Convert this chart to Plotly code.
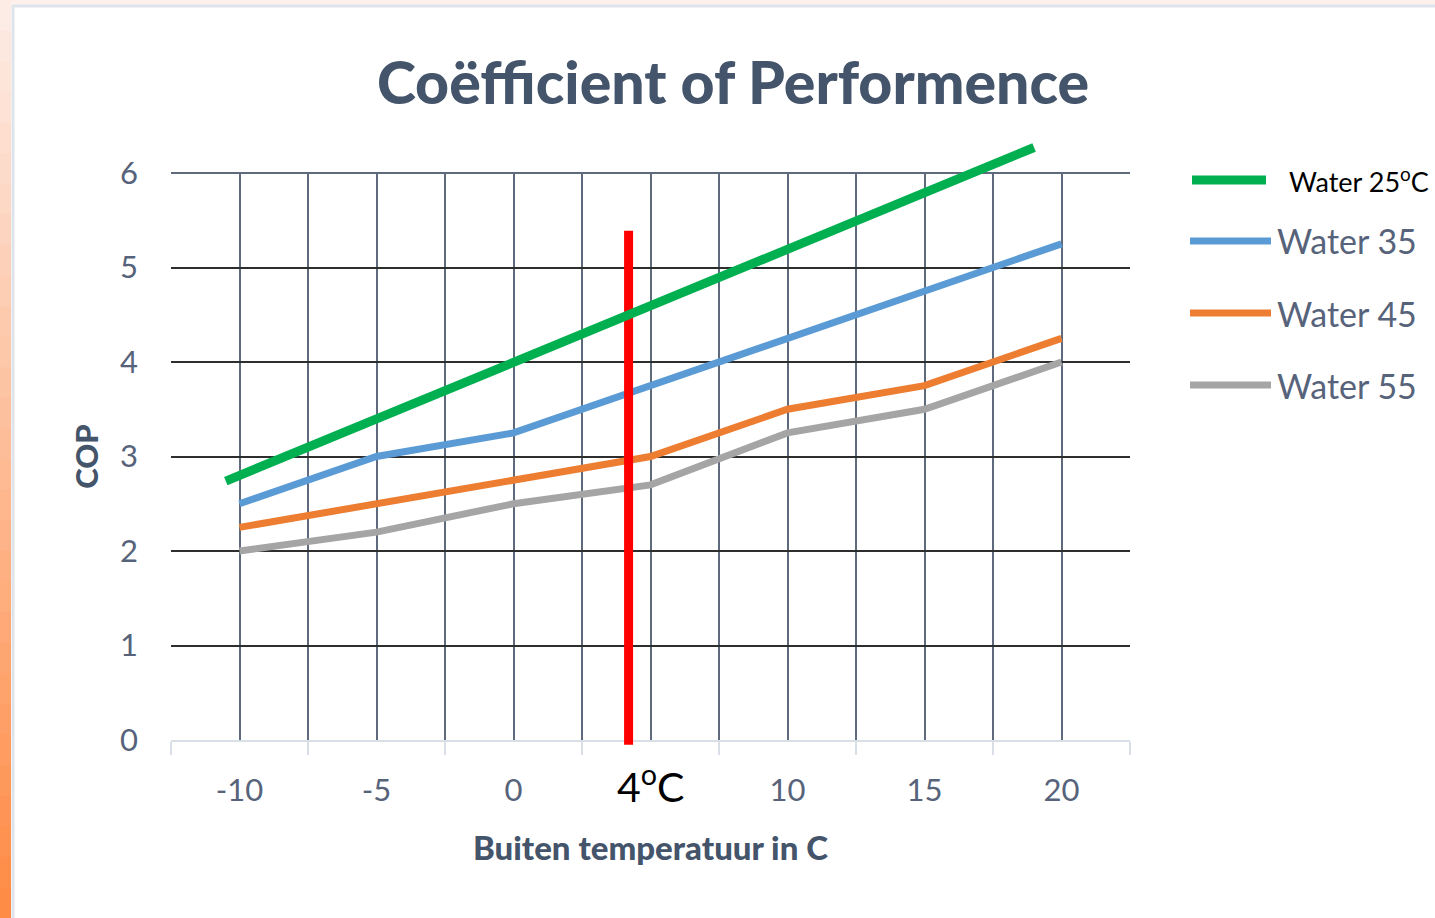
import plotly.graph_objects as go

# ---------------- data ----------------
temps = [-10, -5, 0, 5, 10, 15, 20]
tick_labels = ["-10", "-5", "0", "", "10", "15", "20"]
cop_35 = [2.5, 3.0, 3.25, 3.75, 4.25, 4.75, 5.25]
cop_45 = [2.25, 2.5, 2.75, 3.0, 3.5, 3.75, 4.25]
cop_55 = [2.0, 2.2, 2.5, 2.7, 3.25, 3.5, 4.0]
series_names = ["Water 35", "Water 45", "Water 55"]
series_colors = ["#5B9BD5", "#ED7D31", "#A5A5A5"]

# hand-drawn overlays
green_x = [-10.5, 19.0]
green_y = [2.74, 6.27]
red_x = [4.2, 4.2]
red_y = [-0.05, 5.39]
marker_label = "4<sup>o</sup>C"
marker_label_x = 5
green_name = "Water 25<sup>o</sup>C"

# ---------------- layout geometry (pixels) ----------------
W, H = 1435, 918
PL, PR = 171, 1130          # plot area left/right
PT, PB = 173, 740           # plot area top/bottom (y=6 / y=0)
FT, FB = 120, 770           # paper top/bottom
YMIN, YMAX = 0, 6
XMIN, XMAX = -12.5, 22.5

ppu = (PB - PT) / (YMAX - YMIN)
y_dom = [(FB - PB) / (FB - FT), (FB - PT) / (FB - FT)]
y2_range = [YMIN - (FB - PB) / ppu, YMAX + (PT - FT) / ppu]


def px(xp):
    return (xp - PL) / (PR - PL)


def py(yp):
    return (FB - yp) / (FB - FT)


label_color = "#56637A"
title_color = "#44546A"
grid_v = "#5F6A7C"
grid_h = "#2E2E2E"
font_family = "Lato, 'Open Sans', sans-serif"

fig = go.Figure()

for name, vals, col in zip(series_names, [cop_35, cop_45, cop_55], series_colors):
    fig.add_trace(go.Scatter(
        x=temps, y=vals, mode="lines", name=name,
        line=dict(color=col, width=7), xaxis="x", yaxis="y",
        showlegend=False, hoverinfo="skip"))

# overlay traces on full-paper axes (not clipped to the plot area)
fig.add_trace(go.Scatter(x=red_x, y=red_y, mode="lines",
                         line=dict(color="#FF0000", width=9),
                         xaxis="x2", yaxis="y2", showlegend=False, hoverinfo="skip"))
fig.add_trace(go.Scatter(x=green_x, y=green_y, mode="lines",
                         line=dict(color="#00B050", width=9),
                         xaxis="x2", yaxis="y2", showlegend=False, hoverinfo="skip"))

shapes = []
# background decoration: top pink strip, left orange gradient strip, light gray frame
shapes.append(dict(type="rect", xref="paper", yref="paper", x0=px(0), x1=px(W),
                   y0=py(0), y1=py(5), fillcolor="#FEF0EA", line_width=0, layer="below"))
n = 30
c0 = (253, 236, 230)
c1 = (255, 140, 70)
for i in range(n):
    t = i / (n - 1)
    c = tuple(int(c0[k] + (c1[k] - c0[k]) * t) for k in range(3))
    shapes.append(dict(type="rect", xref="paper", yref="paper",
                       x0=px(0), x1=px(11),
                       y0=py(H * i / n), y1=py(H * (i + 1) / n + 1),
                       fillcolor="rgb(%d,%d,%d)" % c, line_width=0, layer="below"))
shapes.append(dict(type="line", xref="paper", yref="paper", x0=px(12), x1=px(W),
                   y0=py(6), y1=py(6), line=dict(color="#DFE4EB", width=3), layer="below"))
shapes.append(dict(type="line", xref="paper", yref="paper", x0=px(13), x1=px(13),
                   y0=py(5), y1=py(H), line=dict(color="#DFE4EB", width=3), layer="below"))
# top border of plot area
shapes.append(dict(type="line", xref="x domain", yref="y domain", x0=0, x1=1, y0=1, y1=1,
                   line=dict(color=grid_v, width=2), layer="below"))

# manual legend
leg_items = [
    ("#00B050", 180, 1192, 1266, 9, green_name, "black", 27, 1287),
    (series_colors[0], 241, 1190, 1271, 7, series_names[0], label_color, 34, 1275),
    (series_colors[1], 313, 1190, 1271, 7, series_names[1], label_color, 34, 1275),
    (series_colors[2], 385, 1190, 1271, 7, series_names[2], label_color, 34, 1275),
]
annotations = []
for col, yy, xa, xb, wdt, txt, tcol, fs, tx in leg_items:
    shapes.append(dict(type="line", xref="paper", yref="paper", x0=px(xa), x1=px(xb),
                       y0=py(yy), y1=py(yy), line=dict(color=col, width=wdt)))
    annotations.append(dict(xref="paper", yref="paper", x=px(tx), y=py(yy),
                            xanchor="left", yanchor="middle", showarrow=False, text=txt,
                            font=dict(family=font_family, size=fs, color=tcol)))

annotations.append(dict(xref="x", yref="paper", x=marker_label_x, y=py(784),
                        xanchor="center", yanchor="middle", showarrow=False,
                        text=marker_label,
                        font=dict(family=font_family, size=41, color="black")))

fig.update_layout(
    width=W, height=H,
    margin=dict(l=PL, r=W - PR, t=FT, b=H - FB, pad=0),
    paper_bgcolor="white", plot_bgcolor="rgba(0,0,0,0)",
    title=dict(text="Coëfficient of Performence", xref="container", yref="container",
               x=733 / W, y=1 - 83 / H, xanchor="center", yanchor="middle",
               font=dict(family=font_family, size=59, color=title_color, weight=900)),
    xaxis=dict(domain=[0, 1], range=[XMIN, XMAX], anchor="y",
               tickvals=temps, ticktext=tick_labels, ticks="",
               showgrid=True, gridcolor=grid_v, gridwidth=2,
               zeroline=False, showline=True, linecolor="#D9DFE7", linewidth=2,
               tickfont=dict(family=font_family, size=31, color=label_color),
               ticklabelstandoff=22,
               minor=dict(tickvals=[XMIN + 5 * i for i in range(8)], showgrid=True,
                          gridcolor=grid_v, gridwidth=2, ticks="outside", ticklen=13,
                          tickcolor="#D9DFE7", tickwidth=2),
               title=dict(text="Buiten temperatuur in C", standoff=30,
                          font=dict(family=font_family, size=33, color=title_color,
                                    weight=900))),
    yaxis=dict(domain=y_dom, range=[YMIN, YMAX], anchor="x",
               tickvals=[0, 1, 2, 3, 4, 5, 6], ticks="", showgrid=True,
               gridcolor=grid_h, gridwidth=2, zeroline=False, showline=False,
               tickfont=dict(family=font_family, size=31, color=label_color),
               ticklabelstandoff=32,
               title=dict(text="COP", standoff=12,
                          font=dict(family=font_family, size=31, color=title_color,
                                    weight=900))),
    xaxis2=dict(domain=[0, 1], range=[XMIN, XMAX], anchor="y2", visible=False,
                fixedrange=True),
    yaxis2=dict(domain=[0, 1], range=y2_range, anchor="x2", visible=False,
                fixedrange=True),
    shapes=shapes, annotations=annotations,
)

fig.write_html("out.html", config={"displayModeBar": False},
               post_script="document.body.style.margin='0';")
